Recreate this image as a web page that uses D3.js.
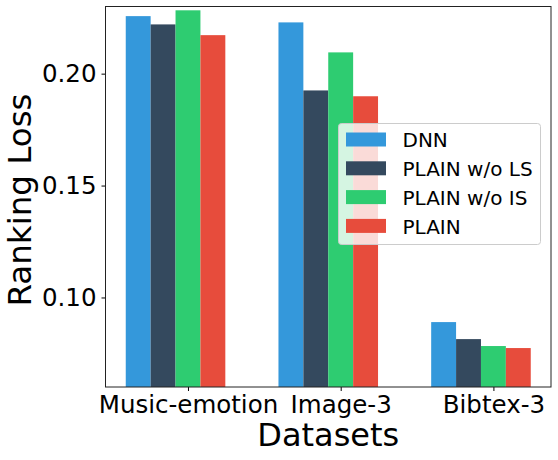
<!DOCTYPE html>
<html>
<head>
<meta charset="utf-8">
<script src="https://cdn.jsdelivr.net/npm/d3@7"></script>
<style>
  body { margin: 0; background: #fff; }
  svg { display: block; font-family: "DejaVu Sans", sans-serif; }
</style>
</head>
<body>
<svg id="chart" width="558" height="460"></svg>
<script>
// data
var datasets = ["Music-emotion", "Image-3", "Bibtex-3"];
var methods = ["DNN", "PLAIN w/o LS", "PLAIN w/o IS", "PLAIN"];
var dnn = [0.2257, 0.2229, 0.0890];
var plainNoLS = [0.2220, 0.1925, 0.0814];
var plainNoIS = [0.2283, 0.2095, 0.0783];
var plain = [0.2172, 0.1899, 0.0774];
var yTicks = [0.10, 0.15, 0.20];
var colors = ["#3498db", "#34495e", "#2ecc71", "#e74c3c"];

var series = [dnn, plainNoLS, plainNoIS, plain];

var svg = d3.select("#chart");
// plot box (note: "top" is taken by window.top)
var axLeft = 105.5, axRight = 551, axTop = 6.5, axBottom = 387;

// bar width in data units, bars centred at i + (k-2)*w
var w = 0.163;
var xmin = -2.5 * w, xmax = datasets.length - 1 + 1.5 * w;
var pad = (xmax - xmin) * 0.05;
var x = d3.scaleLinear().domain([xmin - pad, xmax + pad]).range([axLeft, axRight]);
var y = d3.scaleLinear().domain([0.06, 0.23]).range([axBottom, axTop]);

// bars
series.forEach(function (vals, k) {
    svg.append("g")
        .attr("fill", colors[k])
        .selectAll("rect")
        .data(vals)
        .enter()
        .append("rect")
        .attr("x", function (d, i) { return x(i + (k - 2) * w - w / 2); })
        .attr("width", x(w) - x(0))
        .attr("y", function (d) { return y(d); })
        .attr("height", function (d) { return axBottom - y(d); });
});

// axes
var yAxis = d3.axisLeft(y).tickValues(yTicks).tickFormat(d3.format(".2f")).tickSize(4).tickPadding(5);
var gy = svg.append("g").attr("transform", "translate(" + axLeft + ",0)").call(yAxis);
gy.select(".domain").remove();
gy.selectAll("text").attr("font-size", 24.5).attr("fill", "#000").attr("font-family", "DejaVu Sans");
gy.selectAll("line").attr("stroke", "#000");

var xAxis = d3.axisBottom(x).tickValues(d3.range(datasets.length))
    .tickFormat(function (d) { return datasets[d]; }).tickSize(4).tickPadding(5);
var gx = svg.append("g").attr("transform", "translate(0," + axBottom + ")").call(xAxis);
gx.select(".domain").remove();
gx.selectAll("text").attr("font-size", 24.5).attr("fill", "#000").attr("font-family", "DejaVu Sans")
    .attr("dy", "0.71em");
gx.selectAll("line").attr("stroke", "#000");

// frame
svg.append("rect")
    .attr("x", axLeft).attr("y", axTop)
    .attr("width", axRight - axLeft).attr("height", axBottom - axTop)
    .attr("fill", "none").attr("stroke", "#222").attr("stroke-width", 1);

// axis labels
svg.append("text")
    .attr("x", (axLeft + axRight) / 2).attr("y", 446)
    .attr("text-anchor", "middle").attr("font-size", 32)
    .text("Datasets");
svg.append("text")
    .attr("transform", "translate(30.5,200) rotate(-90)")
    .attr("text-anchor", "middle").attr("font-size", 32.5)
    .text("Ranking Loss");

// legend
var lg = svg.append("g").attr("transform", "translate(338.5,123.5)");
lg.append("rect")
    .attr("width", 202).attr("height", 121).attr("rx", 3)
    .attr("fill", "#fff").attr("fill-opacity", 0.8)
    .attr("stroke", "#ccc").attr("stroke-width", 1);
methods.forEach(function (m, k) {
    var row = lg.append("g").attr("transform", "translate(0," + (k * 28.8) + ")");
    row.append("rect")
        .attr("x", 7.5).attr("y", 9).attr("width", 40).attr("height", 14)
        .attr("fill", colors[k]);
    row.append("text")
        .attr("x", 64).attr("y", 23.8)
        .attr("font-size", 20)
        .text(m);
});
</script>
</body>
</html>
